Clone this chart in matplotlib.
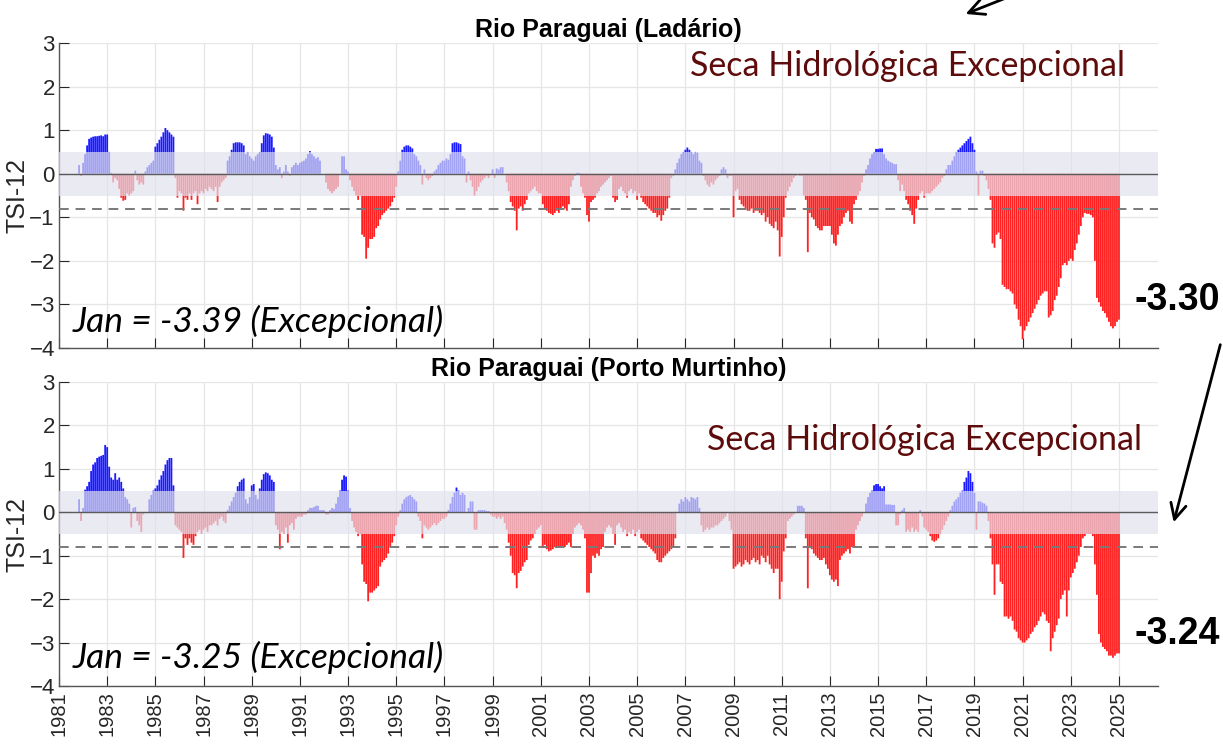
import numpy as np
import matplotlib.pyplot as plt
from matplotlib.patches import FancyArrowPatch

plt.rcParams['font.family'] = ['Liberation Sans', 'DejaVu Sans']

# TSI-12 monthly values, one row per year (Jan..Dec), 1981 .. Jan 2025
nan = np.nan
ladario = [
    [nan]*10 + [0.20, -0.05],                                                        # 1981
    [0.25, 0.45, 0.65, 0.80, 0.83, 0.85, 0.86, 0.86, 0.87, 0.88, 0.86, 0.90],        # 1982
    [0.90, 0.50, 0.02, -0.20, -0.10, -0.15, -0.35, -0.55, -0.62, -0.60, -0.45, -0.50],
    [-0.45, -0.40, 0.07, -0.15, -0.25, -0.20, -0.25, 0.05, 0.15, 0.20, 0.25, 0.30],
    [0.62, 0.70, 0.78, 0.85, 0.95, 1.05, 1.00, 0.95, 0.90, 0.85, -0.10, -0.55],      # 1985
    [-0.40, -0.45, -0.85, -0.55, -0.60, -0.45, -0.60, -0.45, -0.40, -0.70, -0.45, -0.40],
    [-0.45, -0.35, -0.40, -0.30, -0.35, -0.40, -0.30, -0.65, -0.30, -0.20, -0.15, -0.10],
    [0.30, 0.40, 0.55, 0.70, 0.72, 0.72, 0.72, 0.70, 0.65, 0.45, 0.50, 0.40],
    [0.35, 0.30, 0.40, 0.45, 0.50, 0.70, 0.88, 0.93, 0.92, 0.90, 0.85, 0.60],
    [0.20, 0.10, 0.15, -0.10, 0.05, 0.20, 0.05, -0.05, 0.15, 0.20, 0.25, 0.20],      # 1990
    [0.25, 0.28, 0.30, 0.35, 0.45, 0.52, 0.45, 0.40, 0.35, 0.38, 0.30, 0.00],
    [0.00, -0.20, -0.35, -0.40, -0.45, -0.40, -0.35, -0.30, 0.00, 0.40, 0.40, 0.10],
    [0.05, -0.15, -0.30, -0.40, -0.50, -0.60, -0.50, -1.40, -1.45, -1.95, -1.70, -1.50],
    [-1.50, -1.45, -1.25, -1.20, -1.05, -0.95, -0.90, -0.85, -0.80, -0.75, -0.65, -0.55],
    [-0.30, 0.05, 0.30, 0.55, 0.62, 0.65, 0.65, 0.62, 0.58, 0.45, 0.40, 0.30],       # 1995
    [0.20, -0.25, 0.10, -0.10, -0.15, -0.10, -0.05, 0.05, 0.10, 0.20, 0.25, 0.30],
    [0.30, 0.35, 0.32, 0.45, 0.70, 0.72, 0.72, 0.70, 0.68, 0.40, 0.35, -0.20],
    [0.05, -0.15, -0.30, -0.50, -0.40, -0.30, -0.20, -0.15, -0.10, -0.05, -0.10, 0.00],
    [0.10, -0.10, 0.12, 0.10, 0.15, 0.15, 0.00, -0.20, -0.40, -0.65, -0.75, -0.85],
    [-1.30, -0.80, -0.75, -0.85, -0.70, -0.60, -0.45, -0.40, -0.35, -0.30, -0.40, -0.45],  # 2000
    [-0.45, -0.70, -0.80, -0.85, -0.90, -0.92, -0.95, -0.90, -0.85, -0.90, -0.80, -0.75],
    [-0.80, -0.85, -0.70, -0.30, -0.15, -0.05, 0.02, 0.02, -0.30, -0.45, -0.55, -0.95],
    [-1.10, -0.65, -0.60, -0.55, -0.45, -0.40, -0.30, -0.25, -0.20, -0.15, -0.10, -0.05],
    [-0.55, -0.65, -0.60, -0.35, -0.30, -0.40, -0.45, -0.55, -0.40, -0.35, -0.45, -0.40],
    [-0.60, -0.45, -0.55, -0.65, -0.70, -0.75, -0.80, -0.85, -0.90, -0.90, -1.00, -0.95],  # 2005
    [-1.08, -0.95, -0.85, -0.80, -0.55, -0.10, -0.05, 0.10, 0.25, 0.35, 0.45, 0.50],
    [0.55, 0.60, 0.55, 0.50, 0.45, 0.50, 0.48, 0.30, 0.25, -0.05, -0.15, -0.25],
    [-0.30, -0.20, -0.25, -0.15, -0.10, -0.05, 0.10, 0.15, 0.10, -0.10, -0.05, -0.05],
    [-1.00, -0.40, -0.35, -0.60, -0.70, -0.75, -0.80, -0.85, -0.85, -0.80, -0.90, -0.85],
    [-0.85, -0.90, -0.95, -0.90, -1.10, -1.00, -1.15, -1.20, -1.25, -1.10, -1.30, -1.90],  # 2010
    [-1.45, -1.00, -0.55, -0.40, -0.30, -0.20, -0.10, -0.05, 0.00, -0.05, -0.05, -0.50],
    [-0.60, -1.80, -0.90, -1.00, -1.05, -1.20, -1.25, -1.30, -1.30, -1.20, -1.20, -1.20],
    [-1.20, -1.40, -1.60, -1.65, -1.40, -1.20, -1.15, -1.00, -0.90, -0.85, -1.10, -1.15],
    [-0.70, -0.60, -0.50, -0.40, -0.20, -0.05, 0.10, 0.20, 0.35, 0.45, 0.50, 0.57],
    [0.57, 0.58, 0.58, 0.45, 0.35, 0.30, 0.27, 0.25, 0.22, 0.22, -0.15, -0.40],      # 2015
    [-0.25, -0.40, -0.60, -0.70, -0.85, -0.95, -1.15, -0.80, -0.60, -0.45, -0.40, -0.55],
    [-0.45, -0.45, -0.45, -0.40, -0.35, -0.30, -0.25, -0.20, -0.10, -0.05, 0.10, 0.20],
    [0.20, 0.30, 0.40, 0.50, 0.55, 0.60, 0.65, 0.70, 0.75, 0.80, 0.85, 0.70],
    [0.55, 0.05, -0.50, 0.07, 0.07, -0.05, -0.15, -0.35, -0.60, -1.60, -1.70, -1.40],
    [-1.35, -1.50, -2.55, -2.60, -2.65, -2.65, -2.70, -2.75, -3.00, -3.10, -3.35, -3.50],  # 2020
    [-3.80, -3.60, -3.50, -3.40, -3.30, -3.20, -3.10, -3.00, -2.90, -2.80, -2.75, -2.70],
    [-2.70, -3.30, -3.25, -3.15, -2.90, -2.80, -2.60, -2.40, -2.10, -2.05, -2.10, -2.00],
    [-1.95, -2.00, -1.75, -1.60, -1.40, -1.20, -1.00, -0.90, -0.92, -0.92, -0.95, -1.00],
    [-2.00, -2.85, -2.95, -3.05, -3.15, -3.20, -3.30, -3.40, -3.50, -3.55, -3.50, -3.40],
    [-3.35],                                                                          # 2025
]

porto_murtinho = [
    [nan]*10 + [0.30, -0.20],                                                        # 1981
    [0.10, 0.52, 0.60, 0.70, 0.95, 1.10, 1.15, 1.25, 1.28, 1.30, 1.32, 1.55],
    [1.50, 1.05, 0.80, 0.75, 0.90, 0.75, 0.80, 0.70, 0.55, 0.35, 0.30, 0.20],
    [-0.35, 0.10, 0.12, -0.20, -0.30, -0.45, -0.05, 0.00, -0.02, 0.30, 0.40, 0.50],
    [0.55, 0.62, 0.75, 0.85, 0.95, 1.10, 1.20, 1.25, 1.25, 0.62, -0.30, -0.35],      # 1985
    [-0.40, -0.45, -1.05, -0.60, -0.75, -0.60, -0.70, -0.75, -0.55, -0.45, -0.40, -0.50],
    [-0.40, -0.35, -0.45, -0.30, -0.30, -0.25, -0.20, -0.30, -0.15, -0.10, -0.20, -0.25],
    [0.05, 0.15, 0.25, 0.35, 0.45, 0.60, 0.70, 0.75, 0.78, 0.30, 0.20, 0.35],
    [0.62, 0.65, 0.40, 0.30, 0.55, 0.75, 0.88, 0.92, 0.90, 0.85, 0.75, 0.70],
    [-0.30, -0.40, -0.85, -0.45, -0.50, -0.35, -0.70, -0.30, -0.25, -0.40, -0.15, -0.10],  # 1990
    [-0.10, -0.10, -0.05, -0.05, 0.05, 0.10, 0.10, 0.12, 0.15, 0.15, 0.05, 0.05],
    [0.05, -0.05, -0.05, 0.05, 0.10, 0.08, 0.20, 0.35, 0.50, 0.75, 0.85, 0.82],
    [0.50, 0.10, -0.20, -0.35, -0.45, -0.55, -0.50, -1.20, -1.60, -1.65, -2.05, -1.85],
    [-1.85, -1.80, -1.75, -1.70, -1.25, -1.15, -1.10, -1.05, -0.95, -0.80, -0.70, -0.55],
    [-0.30, -0.10, 0.05, 0.20, 0.30, 0.35, 0.38, 0.40, 0.35, 0.30, 0.25, -0.10],     # 1995
    [-0.20, -0.60, -0.30, -0.35, -0.40, -0.35, -0.30, -0.25, -0.30, -0.25, -0.20, -0.15],
    [-0.15, -0.10, 0.05, 0.20, 0.35, 0.45, 0.57, 0.50, 0.40, 0.45, 0.40, 0.00],
    [0.10, 0.25, 0.25, -0.40, -0.40, 0.05, 0.05, 0.05, 0.05, 0.03, 0.03, -0.05],
    [-0.10, -0.10, -0.15, -0.10, -0.15, -0.10, -0.25, -0.40, -0.70, -1.00, -1.40, -1.45],
    [-1.75, -1.40, -1.35, -1.25, -1.15, -1.10, -0.75, -0.65, -0.60, -0.50, -0.40, -0.35],  # 2000
    [-0.30, -0.80, -0.75, -0.85, -0.90, -0.88, -0.85, -0.80, -0.80, -0.82, -0.78, -0.80],
    [-0.80, -0.75, -0.70, -0.80, -0.50, -0.35, -0.30, -0.25, -0.30, -0.40, -0.60, -1.85],
    [-1.85, -1.40, -1.00, -1.05, -0.95, -1.00, -0.85, -0.80, -0.45, -0.35, -0.30, -0.35],
    [-0.50, -0.75, -0.30, -0.25, -0.35, -0.45, -0.40, -0.55, -0.45, -0.50, -0.40, -0.55],
    [-0.45, -0.40, -0.60, -0.65, -0.70, -0.75, -0.80, -0.85, -0.90, -0.95, -1.10, -1.15],  # 2005
    [-1.15, -1.05, -1.00, -0.95, -0.90, -0.85, -0.80, -0.60, 0.00, 0.20, 0.30, 0.25],
    [0.35, 0.30, 0.25, 0.35, 0.33, 0.30, 0.35, 0.10, -0.30, -0.45, -0.40, -0.35],
    [-0.40, -0.35, -0.35, -0.30, -0.30, -0.25, -0.20, -0.15, -0.10, 0.00, -0.20, -0.40],
    [-1.30, -1.25, -1.20, -1.15, -1.25, -1.20, -1.10, -1.15, -1.20, -1.10, -1.05, -1.15],
    [-1.10, -1.20, -1.00, -1.05, -1.15, -1.00, -1.20, -1.30, -1.40, -1.30, -1.30, -2.00],  # 2010
    [-1.60, -0.90, -0.60, -0.20, -0.15, -0.10, -0.05, 0.00, 0.15, 0.15, 0.15, 0.10],
    [-0.60, -1.75, -0.80, -0.85, -0.95, -1.00, -1.05, -1.10, -1.10, -1.05, -1.20, -1.30],
    [-1.45, -1.55, -1.60, -1.55, -1.70, -1.10, -1.00, -0.95, -0.90, -0.85, -0.95, -0.80],
    [-0.80, -0.40, -0.30, -0.20, -0.10, 0.00, 0.20, 0.35, 0.45, 0.50, 0.62, 0.65],
    [0.65, 0.60, 0.55, 0.60, 0.18, 0.18, 0.18, 0.17, 0.17, -0.30, -0.30, -0.05],     # 2015
    [0.05, 0.10, -0.45, -0.40, -0.45, -0.35, -0.45, -0.40, -0.45, 0.05, -0.10, -0.35],
    [-0.40, -0.45, -0.55, -0.65, -0.68, -0.65, -0.60, -0.50, -0.40, -0.30, -0.20, -0.10],
    [0.05, 0.15, 0.25, 0.30, 0.35, 0.45, 0.50, 0.70, 0.80, 0.95, 0.90, 0.70],
    [0.45, -0.40, 0.25, 0.25, 0.22, 0.20, 0.15, -0.20, -0.60, -1.20, -1.90, -1.20],
    [-1.20, -1.60, -1.65, -2.40, -2.40, -2.45, -2.40, -2.50, -2.70, -2.75, -2.90, -2.95],  # 2020
    [-3.00, -3.00, -2.95, -2.90, -2.80, -2.75, -2.65, -2.60, -2.50, -2.40, -2.30, -2.35],
    [-2.50, -2.55, -3.20, -2.90, -2.75, -2.60, -2.45, -2.00, -1.90, -1.80, -2.40, -1.80],
    [-1.50, -1.40, -1.30, -1.15, -1.00, -0.80, -0.60, -0.55, -0.50, -0.50, -0.50, -0.55],
    [-1.20, -1.90, -2.80, -3.00, -3.10, -3.15, -3.20, -3.30, -3.30, -3.35, -3.30, -3.25],
    [-3.25],                                                                          # 2025
]

titles = ['Rio Paraguai (Ladário)', 'Rio Paraguai (Porto Murtinho)']
jan_notes = ['Jan = -3.39 (Excepcional)', 'Jan = -3.25 (Excepcional)']
last_values = ['-3.30', '-3.24']
year_ticks = np.arange(1981, 2026, 2)

RED = (1.0, 0.13, 0.13)
BLUE = (0.1, 0.1, 1.0)
BAND = (0.882, 0.882, 0.937)
W, H = 1223, 744


def draw_panel(ax, rows, title, show_xlabels):
    vals = np.concatenate([np.array(r, dtype=float) for r in rows])
    t = 1981 + np.arange(len(vals)) / 12.0
    ok = ~np.isnan(vals)
    t, vals = t[ok], vals[ok]
    pos = vals >= 0
    for m, c in [(pos, BLUE), (~pos, RED)]:
        ax.bar(t[m], vals[m], width=0.075, color=c, edgecolor='none', lw=0,
               snap=False, zorder=2)
    # pale band over the near-normal range
    ax.axhspan(-0.5, 0.5, color=BAND, alpha=0.69, lw=0, zorder=3)
    ax.axhline(0, color='#5a5a5a', lw=1.0, zorder=4)
    ax.axhline(-0.8, color='#7a7a7a', lw=1.4, ls=(0, (5, 3.5)), zorder=4)

    ax.set_xlim(1981, 2026.62)
    ax.set_ylim(-4, 3)
    ax.set_yticks(np.arange(-4, 4))
    ax.set_xticks(year_ticks)
    if show_xlabels:
        ax.set_xticklabels([str(y) for y in year_ticks], rotation=90)
    else:
        ax.set_xticklabels([])
    ax.grid(True, color='#e6e6e6', lw=0.9)
    ax.set_axisbelow(True)
    for s in ['top', 'right']:
        ax.spines[s].set_visible(False)
    for s in ['left', 'bottom']:
        ax.spines[s].set_color('#555555')
        ax.spines[s].set_linewidth(1.0)
    ax.tick_params(direction='in', length=7, color='#262626',
                   labelcolor='#262626', pad=4)
    ax.tick_params(axis='x', labelsize=14.5)
    ax.tick_params(axis='y', labelsize=16, pad=3)
    ax.set_ylabel('TSI-12', fontsize=18, color='#262626', labelpad=0)
    ax.set_title(title, fontsize=18, fontweight='bold', pad=4)


fig = plt.figure(figsize=(W / 100, H / 100), dpi=100)
left = 59 / W
width = (1158 - 59) / W
ax1 = fig.add_axes([left, 1 - 348 / H, width, (348 - 43) / H])
ax2 = fig.add_axes([left, 1 - 686 / H, width, (686 - 382) / H])

draw_panel(ax1, ladario, titles[0], False)
draw_panel(ax2, porto_murtinho, titles[1], True)

# slide annotations
seca_color = '#5e0b0b'
fig.text(690 / W, 1 - 66 / H, 'Seca Hidrológica Excepcional', color=seca_color,
         fontsize=24.5, family='Lato', va='center', ha='left')
fig.text(707 / W, 1 - 440 / H, 'Seca Hidrológica Excepcional', color=seca_color,
         fontsize=24.5, family='Lato', va='center', ha='left')
fig.text(73 / W, 1 - 321 / H, jan_notes[0], fontsize=25.5, family='Lato',
         style='italic', va='center', ha='left')
fig.text(73 / W, 1 - 657 / H, jan_notes[1], fontsize=25.5, family='Lato',
         style='italic', va='center', ha='left')
fig.text(1220 / W, 1 - 300 / H, last_values[0], fontsize=27, fontweight='bold',
         va='center', ha='right')
fig.text(1220 / W, 1 - 634 / H, last_values[1], fontsize=27, fontweight='bold',
         va='center', ha='right')


def px(x, y):
    return (x / W, 1 - y / H)


for a, b in [((1016, -6), (963, 15)), ((1221, 342), (1173, 525))]:
    fig.add_artist(FancyArrowPatch(px(*a), px(*b), transform=fig.transFigure,
                                   arrowstyle='->', mutation_scale=28, lw=2,
                                   color='black'))

fig.savefig('out.png', dpi=100)
